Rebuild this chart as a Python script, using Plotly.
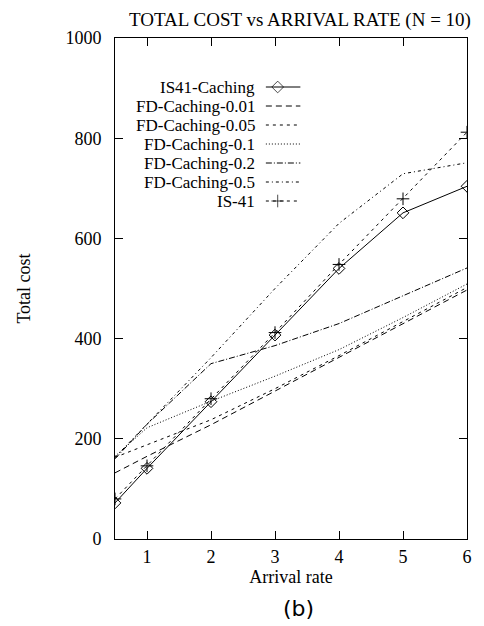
import plotly.graph_objects as go

# ---- data ----
arrival_rate = [0.5, 1, 2, 3, 4, 5, 6]
series_names = ["IS41-Caching", "FD-Caching-0.01", "FD-Caching-0.05", "FD-Caching-0.1",
                "FD-Caching-0.2", "FD-Caching-0.5", "IS-41"]
is41_caching = [72, 141, 274, 407, 540, 651, 704]
fd_001 = [132, 165, 228, 295, 362, 430, 497]
fd_005 = [163, 188, 238, 300, 366, 434, 502]
fd_01 = [165, 222, 275, 325, 378, 442, 509]
fd_02 = [160, 229, 350, 386, 430, 485, 541]
fd_05 = [163, 229, 362, 500, 630, 729, 751]
is41 = [80, 146, 280, 412, 548, 679, 812]
x_ticks = [1, 2, 3, 4, 5, 6]
y_ticks = [0, 200, 400, 600, 800, 1000]

values = [is41_caching, fd_001, fd_005, fd_01, fd_02, fd_05, is41]

# ---- styles ----
SERIF = "Liberation Serif, Times New Roman, serif"
dashes = ["solid", "6px,4px", "3px,4px", "1px,2px", "6px,2px,1px,2px", "3px,3px,1px,3px", "3px,4px"]
symbols = ["diamond-open", None, None, None, None, None, "cross-thin-open"]

fig = go.Figure()
for name, vals, dash, sym in zip(series_names, values, dashes, symbols):
    mode = "lines+markers" if sym else "lines"
    kw = dict(x=arrival_rate, y=vals, name=name, mode=mode, showlegend=False,
              line=dict(color="black", width=1, dash=dash))
    if sym:
        kw["marker"] = dict(symbol=sym, size=9, color="black", line=dict(color="black", width=1))
    fig.add_trace(go.Scatter(**kw))

# ---- custom gnuplot-style legend (text right-aligned, sample to the right) ----
L, R, T, B = 115, 472, 38, 539
W, H = R - L, B - T
def px(x):
    return (x - L) / W
def py(y):
    return (B - y) / H

x0, x1, xm = px(268), px(303), px(280)
for i, (name, dash, sym) in enumerate(zip(series_names, dashes, symbols)):
    yy = py(87 + 19 * i)
    fig.add_annotation(x=px(258), y=yy, xref="paper", yref="paper", text=name,
                       showarrow=False, xanchor="right", yanchor="middle", borderpad=0,
                       font=dict(family=SERIF, size=17, color="black"))
    if sym:
        fig.add_trace(go.Scatter(x=[x0, xm, x1], y=[yy, yy, yy], xaxis="x2", yaxis="y2",
                                 mode="lines+markers", showlegend=False, hoverinfo="skip",
                                 line=dict(color="black", width=1, dash=dash),
                                 marker=dict(symbol=sym, size=[0, 9, 0], color="black",
                                             line=dict(color="black", width=1))))
    else:
        fig.add_trace(go.Scatter(x=[x0, x1], y=[yy, yy], xaxis="x2", yaxis="y2",
                                 mode="lines", showlegend=False, hoverinfo="skip",
                                 line=dict(color="black", width=1, dash=dash)))

fig.update_layout(
    width=484, height=626,
    margin=dict(l=L, r=484 - R, t=T, b=626 - B),
    paper_bgcolor="white", plot_bgcolor="white",
    font=dict(family=SERIF, size=18, color="black"),
    title=dict(text="TOTAL COST vs ARRIVAL RATE (N = 10)", xref="container", yref="container",
               x=300 / 484, y=1 - 19 / 626, xanchor="center", yanchor="middle",
               font=dict(family=SERIF, size=19, color="black")),
    xaxis=dict(range=[0.5, 6], tickvals=x_ticks, ticks="inside", ticklen=8, tickwidth=1,
               tickcolor="black", showline=True, linecolor="black", linewidth=1, mirror="ticks",
               showgrid=False, zeroline=False, ticklabelstandoff=1,
               title=dict(text="Arrival rate", standoff=0, font=dict(family=SERIF, size=18))),
    yaxis=dict(range=[0, 1000], tickvals=y_ticks, ticks="inside", ticklen=8, tickwidth=1,
               tickcolor="black", showline=True, linecolor="black", linewidth=1, mirror="ticks",
               showgrid=False, zeroline=False, ticklabelstandoff=9,
               title=dict(text="Total cost", standoff=30, font=dict(family=SERIF, size=18))),
    xaxis2=dict(range=[0, 1], overlaying="x", visible=False, fixedrange=True),
    yaxis2=dict(range=[0, 1], overlaying="y", visible=False, fixedrange=True),
)

fig.add_annotation(text="(b)", xref="paper", yref="paper", x=px(301), y=py(608),
                   showarrow=False, xanchor="center", yanchor="middle",
                   font=dict(family="DejaVu Sans, sans-serif", size=22, color="black"))

fig.write_html("out.html")
